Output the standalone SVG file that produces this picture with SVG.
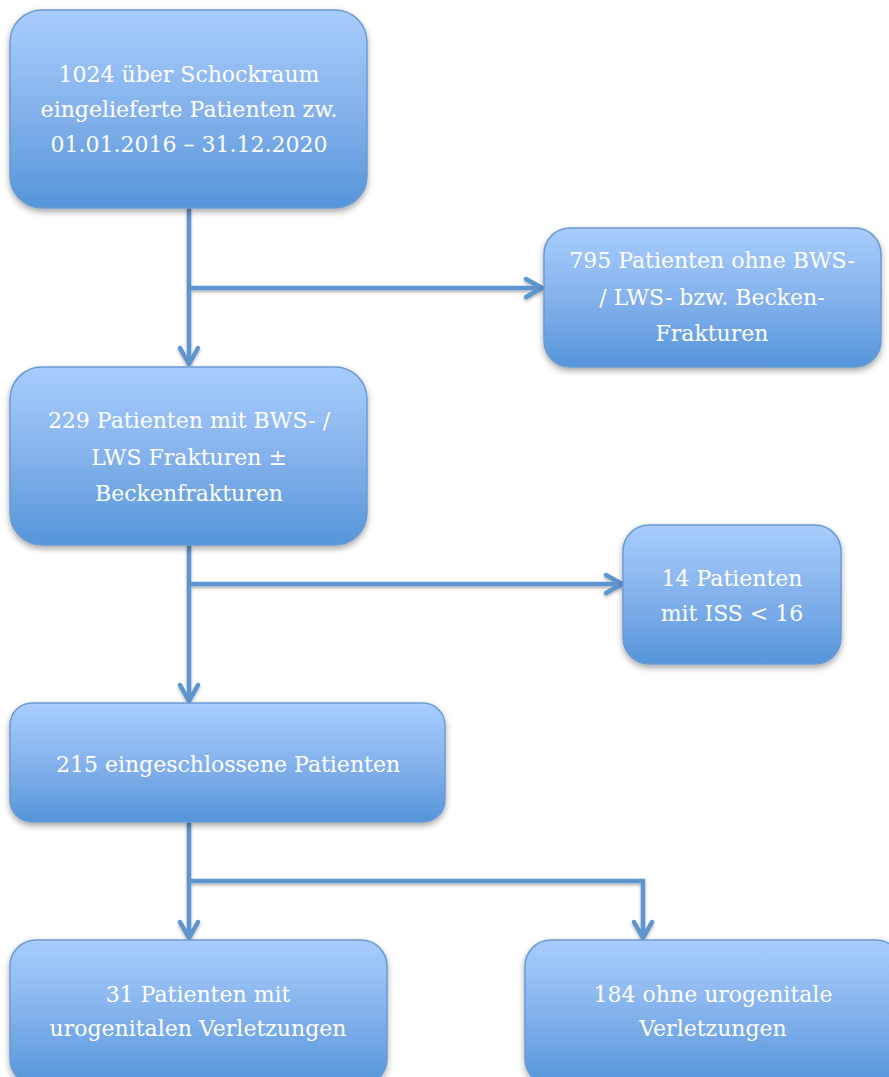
<svg xmlns="http://www.w3.org/2000/svg" width="889" height="1077" viewBox="0 0 889 1077">
<style>
.box{fill:url(#g);stroke:#6b9bd2;stroke-width:1.5;filter:url(#sh)}
.t{font-family:"DejaVu Serif","Liberation Serif",serif;font-size:22px;fill:#ffffff;text-anchor:middle}
.c{fill:none;stroke:#5e95ce;stroke-width:4.5;stroke-linejoin:miter}
</style>
<defs>
<linearGradient id="g" x1="0" y1="0" x2="0" y2="1">
<stop offset="0" stop-color="#a8cdfd"/>
<stop offset="0.5" stop-color="#85b2ec"/>
<stop offset="1" stop-color="#5595da"/>
</linearGradient>
<filter id="sh" x="-10%" y="-10%" width="120%" height="130%">
<feDropShadow dx="0" dy="3" stdDeviation="3" flood-color="#000" flood-opacity="0.35"/>
</filter>
<filter id="sh2" x="-5%" y="-5%" width="110%" height="110%">
<feDropShadow dx="0" dy="2" stdDeviation="1.5" flood-color="#000" flood-opacity="0.3"/>
</filter>
<marker id="a" markerUnits="userSpaceOnUse" viewBox="-22 -13 26 26" refX="0" refY="0" markerWidth="26" markerHeight="26" orient="auto">
<path d="M-16,-9 L0,0 L-16,9" fill="none" stroke="#5e95ce" stroke-width="4.5" stroke-linecap="round" stroke-linejoin="round"/>
</marker>
</defs>
<rect width="889" height="1077" fill="#ffffff"/>
<g id="connectors" filter="url(#sh2)">
<path class="c" d="M189,208 V364" marker-end="url(#a)"/>
<path class="c" d="M189,288 H542" marker-end="url(#a)"/>
<path class="c" d="M189,545 V701" marker-end="url(#a)"/>
<path class="c" d="M189,584 H622" marker-end="url(#a)"/>
<path class="c" d="M189,822 V938" marker-end="url(#a)"/>
<path class="c" d="M189,881 H643 V938" marker-end="url(#a)"/>
</g>
<g id="n1">
<rect class="box" x="10" y="10" width="357" height="198" rx="32"/>
<text class="t" x="189" y="82">1024 über Schockraum</text>
<text class="t" x="189" y="117">eingelieferte Patienten zw.</text>
<text class="t" x="189" y="152">01.01.2016 – 31.12.2020</text>
</g>
<g id="n2">
<rect class="box" x="544" y="228" width="337" height="139" rx="26"/>
<text class="t" x="712" y="268">795 Patienten ohne BWS-</text>
<text class="t" x="712" y="305">/ LWS- bzw. Becken-</text>
<text class="t" x="712" y="341">Frakturen</text>
</g>
<g id="n3">
<rect class="box" x="10" y="367" width="357" height="178" rx="32"/>
<text class="t" x="189" y="428">229 Patienten mit BWS- /</text>
<text class="t" x="189" y="465">LWS Frakturen ±</text>
<text class="t" x="189" y="501">Beckenfrakturen</text>
</g>
<g id="n4">
<rect class="box" x="623" y="525" width="218" height="139" rx="26"/>
<text class="t" x="732" y="586">14 Patienten</text>
<text class="t" x="732" y="621">mit ISS &lt; 16</text>
</g>
<g id="n5">
<rect class="box" x="10" y="703" width="435" height="119" rx="22"/>
<text class="t" x="228" y="772">215 eingeschlossene Patienten</text>
</g>
<g id="n6">
<rect class="box" x="10" y="940" width="377" height="145" rx="26"/>
<text class="t" x="198" y="1002">31 Patienten mit</text>
<text class="t" x="198" y="1036">urogenitalen Verletzungen</text>
</g>
<g id="n7">
<rect class="box" x="525" y="940" width="377" height="145" rx="26"/>
<text class="t" x="713" y="1002">184 ohne urogenitale</text>
<text class="t" x="713" y="1036">Verletzungen</text>
</g>
</svg>
